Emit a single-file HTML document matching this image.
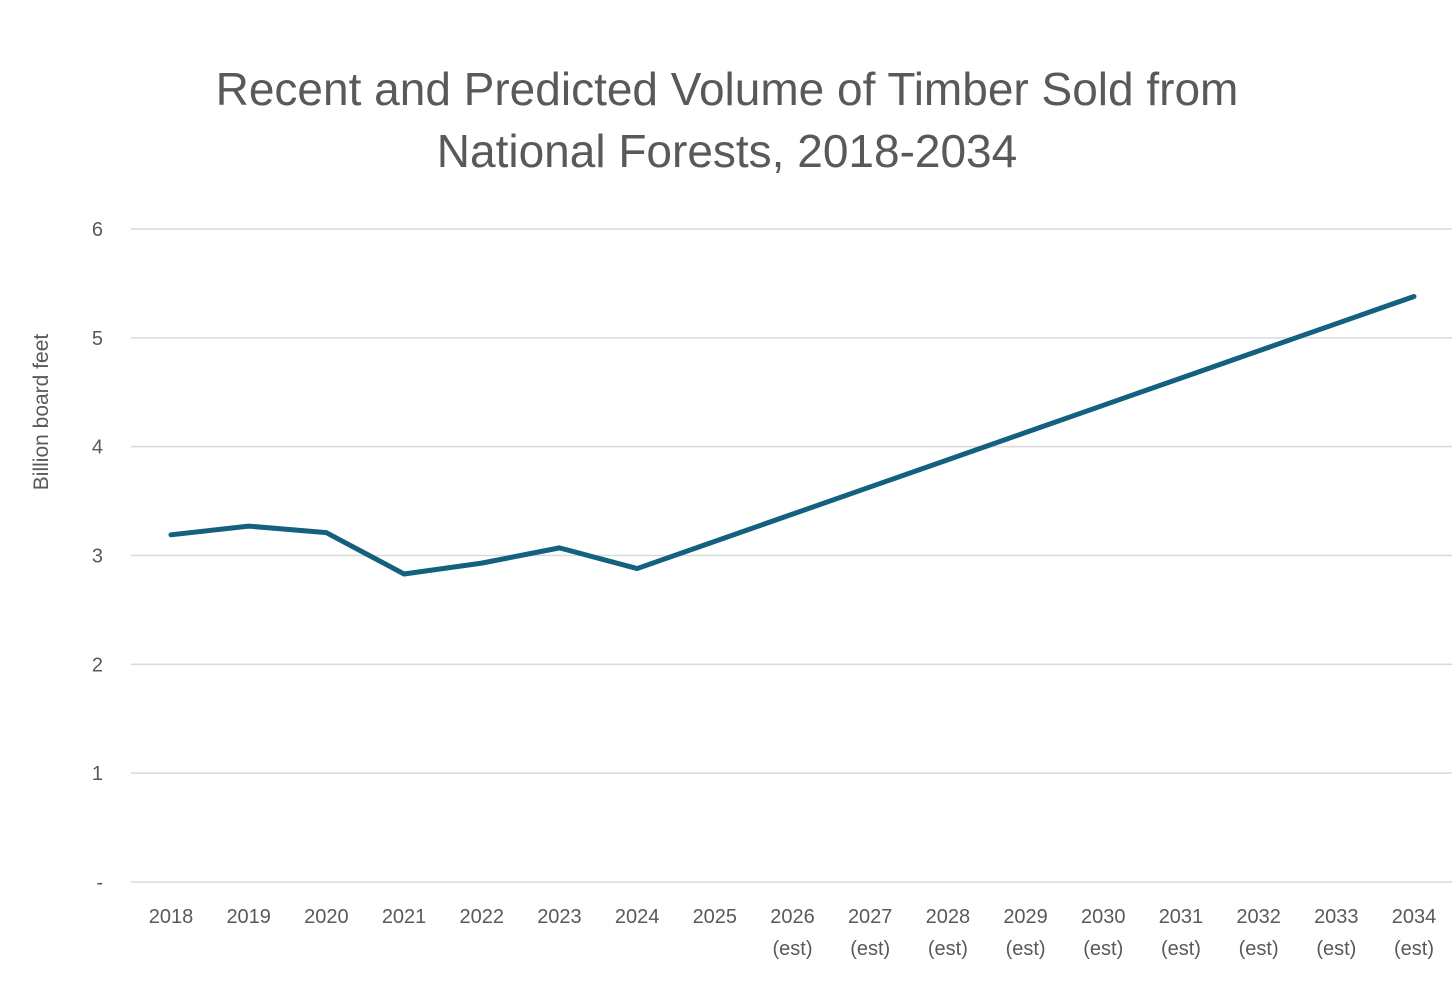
<!DOCTYPE html>
<html><head><meta charset="utf-8"><style>
body{margin:0;background:#fff;font-family:"Liberation Sans",sans-serif;}
svg text{font-family:"Liberation Sans",sans-serif;fill:#595959;}
</style></head><body>
<svg width="1456" height="981">
<text x="727" y="105" text-anchor="middle" font-size="46">Recent and Predicted Volume of Timber Sold from</text>
<text x="727" y="167" text-anchor="middle" font-size="46">National Forests, 2018-2034</text>
<text transform="translate(48,412) rotate(-90)" text-anchor="middle" font-size="21">Billion board feet</text>
<g id="grid"></g><g id="xt"></g><path id="line" fill="none" stroke="#13607f" stroke-width="5" stroke-linejoin="round" stroke-linecap="round"/>
</svg>
<script>
const categories=["2018","2019","2020","2021","2022","2023","2024","2025","2026","2027","2028","2029","2030","2031","2032","2033","2034"];
const estFlags=[0,0,0,0,0,0,0,0,1,1,1,1,1,1,1,1,1];
const values=[3.19,3.27,3.21,2.83,2.93,3.07,2.88,3.13,3.38,3.63,3.88,4.13,4.38,4.63,4.88,5.13,5.38];
const yTicks=[0,1,2,3,4,5,6];
const yTickLabels=["-","1","2","3","4","5","6"];
const NS="http://www.w3.org/2000/svg";
const x=i=>171+i*(1414-171)/(categories.length-1);
const y=v=>882-v*(882-229)/6;
const g=document.getElementById('grid'),xt=document.getElementById('xt');
yTicks.forEach((t,i)=>{
 const l=document.createElementNS(NS,'line');
 l.setAttribute('x1',131);l.setAttribute('x2',1452);l.setAttribute('y1',y(t));l.setAttribute('y2',y(t));
 l.setAttribute('stroke','#d9d9d9');l.setAttribute('stroke-width','1.5');
 
 
 g.appendChild(l);
 const tx=document.createElementNS(NS,'text');
 tx.setAttribute('x',103);tx.setAttribute('y',y(t)+7);tx.setAttribute('text-anchor','end');tx.setAttribute('font-size','20');
 tx.textContent=yTickLabels[i];
 
 
 g.appendChild(tx);
});
categories.forEach((c,i)=>{
 const tx=document.createElementNS(NS,'text');
 tx.setAttribute('x',x(i));tx.setAttribute('y',923);tx.setAttribute('text-anchor','middle');tx.setAttribute('font-size','20');
 tx.textContent=c;
 
 
 xt.appendChild(tx);
 if(estFlags[i]){
  const e=document.createElementNS(NS,'text');
  e.setAttribute('x',x(i));e.setAttribute('y',955);e.setAttribute('text-anchor','middle');e.setAttribute('font-size','20');
  e.textContent='(est)';
  
  
  xt.appendChild(e);
 }
});
document.getElementById('line').setAttribute('d',values.map((v,i)=>(i?'L':'M')+x(i)+','+y(v)).join(''));
</script>
</body></html>
